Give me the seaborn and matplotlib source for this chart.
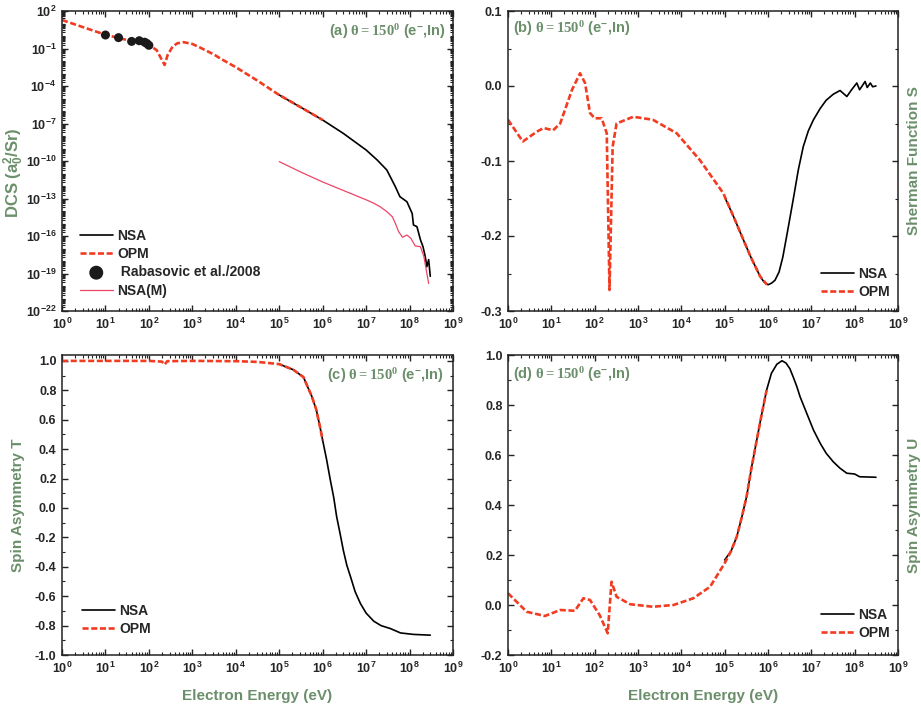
import numpy as np
import pandas as pd
import matplotlib
matplotlib.use("Agg")
import matplotlib.pyplot as plt
import matplotlib.ticker as mticker
import seaborn as sns

# ---------------- data (electron energy in eV) ----------------
# (a) differential cross section, a0^2/Sr
dcs_opm_e = [1, 3.2, 10, 32, 100, 150, 200, 230, 270, 350, 450, 630, 1000, 1500,
             3200, 4400, 1e4, 3.2e4, 1e5, 3.2e5, 1e6]
dcs_opm_v = [19, 4.8, 1.26, 0.47, 0.19, 0.076, 0.012, 0.0048, 0.030, 0.14, 0.26,
             0.32, 0.23, 0.12, 0.032, 0.016, 3.2e-3, 2.6e-4, 1.9e-5, 1.9e-6, 1.9e-7]
dcs_nsa_e = [1e5, 3.2e5, 1e6, 3e6, 1e7, 1.8e7, 3e7, 4.7e7, 6e7, 8.7e7, 1.15e8,
             1.23e8, 1.48e8, 1.78e8, 2.04e8, 2.3e8, 2.5e8, 2.75e8, 3e8]
dcs_nsa_v = [1.9e-5, 1.9e-6, 1.9e-7, 1.6e-8, 7.6e-10, 1.2e-10, 1.9e-11, 8.9e-13,
             1.4e-13, 5.5e-14, 6.3e-15, 7.6e-16, 5.6e-16, 5.0e-17, 1.4e-17,
             2.2e-18, 3.5e-19, 1.3e-18, 6e-20]
dcs_nsam_e = [1e5, 3.2e5, 1e6, 3.2e6, 1e7, 1.5e7, 2.1e7, 3e7, 4e7, 4.7e7, 5.6e7,
              6.9e7, 8.7e7, 1.07e8, 1.35e8, 1.78e8, 2.14e8, 2.75e8]
dcs_nsam_v = [8.9e-11, 1.26e-11, 2.1e-12, 4.0e-13, 7.9e-14, 4.2e-14, 2.2e-14,
              8.9e-15, 3.5e-15, 1.05e-15, 2.2e-16, 7.9e-17, 1.2e-16, 6.5e-17,
              1.6e-17, 1.4e-17, 2.2e-18, 1.6e-20]
rab_e = [10, 20, 40, 60, 80, 90, 100]
rab_v = [1.2, 0.74, 0.37, 0.42, 0.32, 0.25, 0.18]

# (b) Sherman function S
s_opm_e = [1, 2.2, 4.6, 6.6, 11, 16, 30, 46, 60, 78, 100, 145, 190, 220, 260, 320,
           780, 2200, 7800, 2.7e4, 9.3e4, 1.6e5, 2.7e5, 4e5, 6.6e5, 9.5e5]
s_opm_v = [-0.045, -0.074, -0.061, -0.056, -0.059, -0.050, -0.005, 0.017, 0.004,
           -0.036, -0.043, -0.043, -0.063, -0.272, -0.081, -0.050, -0.041, -0.045,
           -0.063, -0.099, -0.143, -0.174, -0.205, -0.228, -0.254, -0.265]
s_nsa_e = [1e5, 1.6e5, 2.7e5, 4e5, 6.6e5, 8e5, 1.0e6, 1.2e6, 1.45e6, 1.8e6, 2.2e6,
           2.8e6, 3.8e6, 5e6, 6.5e6, 8.5e6, 1.12e7, 1.6e7, 2.2e7, 3.2e7, 4.6e7,
           6.6e7, 8.5e7, 1.12e8, 1.3e8, 1.74e8, 1.95e8, 2.3e8, 2.6e8, 3.1e8]
s_nsa_v = [-0.148, -0.174, -0.205, -0.228, -0.254, -0.261, -0.265, -0.263, -0.259,
           -0.248, -0.228, -0.195, -0.152, -0.112, -0.081, -0.060, -0.045, -0.030,
           -0.019, -0.011, -0.006, -0.014, -0.005, 0.004, -0.005, 0.006, -0.002,
           0.004, -0.001, 0.0]

# (c) spin asymmetry T
t_opm_e = [1, 10, 100, 200, 230, 265, 1000, 1e4, 3.2e4, 1e5, 2.1e5, 3.6e5, 5.6e5,
           7.1e5, 8.7e5, 1e6]
t_opm_v = [1.0, 1.0, 1.0, 0.995, 0.975, 0.998, 1.0, 0.998, 0.993, 0.978, 0.94,
           0.89, 0.76, 0.67, 0.55, 0.46]
t_nsa_e = [1e5, 2.1e5, 3.6e5, 5.6e5, 7.1e5, 8.7e5, 1e6, 1.23e6, 1.5e6, 1.8e6, 2.1e6,
           2.5e6, 3e6, 3.6e6, 4.4e6, 5.6e6, 7.4e6, 1e7, 1.5e7, 2.2e7, 3.6e7, 6.2e7,
           1.23e8, 3e8]
t_nsa_v = [0.978, 0.94, 0.89, 0.76, 0.67, 0.55, 0.46, 0.33, 0.19, 0.07, -0.06,
           -0.17, -0.29, -0.39, -0.47, -0.57, -0.65, -0.715, -0.77, -0.80, -0.82,
           -0.85, -0.86, -0.865]

# (d) spin asymmetry U
u_opm_e = [1, 2.7, 7.1, 16, 35, 55, 78, 130, 200, 245, 320, 660, 2200, 6600, 1.9e4,
           4.6e4, 1e5, 1.4e5, 1.9e5, 2.5e5, 3.2e5, 4.2e5, 5.5e5, 7.1e5, 9.3e5]
u_opm_v = [0.047, -0.027, -0.044, -0.020, -0.023, 0.027, 0.020, -0.040, -0.113,
           0.093, 0.033, 0.003, -0.007, 0.0, 0.027, 0.073, 0.167, 0.215, 0.273,
           0.353, 0.433, 0.553, 0.66, 0.76, 0.86]
u_nsa_e = [1e5, 1.4e5, 1.9e5, 2.5e5, 3.2e5, 4.2e5, 5.5e5, 7.1e5, 9.3e5, 1.2e6,
           1.6e6, 2.1e6, 2.6e6, 3.2e6, 3.8e6, 4.6e6, 5.5e6, 7.9e6, 1.12e7, 1.6e7,
           2.2e7, 3.2e7, 4.6e7, 6.6e7, 1.0e8, 1.3e8, 2e8, 3.1e8]
u_nsa_v = [0.18, 0.215, 0.273, 0.353, 0.433, 0.553, 0.66, 0.76, 0.86, 0.927,
           0.963, 0.977, 0.968, 0.945, 0.913, 0.875, 0.833, 0.765, 0.70, 0.647,
           0.607, 0.573, 0.547, 0.527, 0.524, 0.513, 0.512, 0.511]

panel_tags = ["(a)", "(b)", "(c)", "(d)"]
x_decades = list(range(0, 10))

# ---------------- style ----------------
sns.set_style("ticks")
GREEN = "#6B8F6B"
RED = "#F23C22"
PINK = "#EE4466"
plt.rcParams.update({
    "font.family": ["Liberation Sans", "DejaVu Sans"],
    "font.weight": "bold",
    "mathtext.fontset": "custom",
    "mathtext.rm": "Liberation Serif",
    "mathtext.it": "Liberation Serif:italic",
    "mathtext.bf": "Liberation Sans:bold",
    "mathtext.sf": "Liberation Sans",
    "xtick.direction": "in",
    "ytick.direction": "in",
    "axes.linewidth": 1.1,
    "axes.edgecolor": "#222222",
})

fig = plt.figure(figsize=(9.21, 7.09), dpi=100)
W, H = 921.0, 709.0


def rect(l, t, r, b):
    return [l / W, 1 - b / H, (r - l) / W, (b - t) / H]


ax_a = fig.add_axes(rect(62, 11, 453, 311))
ax_b = fig.add_axes(rect(508, 11, 898, 311))
ax_c = fig.add_axes(rect(62, 355, 453, 655))
ax_d = fig.add_axes(rect(508, 355, 898, 655))

dash = (2.3, 1.0)
NSA_KW = dict(color="black", lw=1.2, sort=False)
OPM_KW = dict(color=RED, lw=1.9, sort=False, dashes=dash)


def series(e, v):
    return pd.DataFrame({"E": e, "V": v})


# (a)
sns.lineplot(data=series(dcs_nsa_e, dcs_nsa_v), x="E", y="V", ax=ax_a, label="NSA", **NSA_KW)
sns.lineplot(data=series(dcs_opm_e, dcs_opm_v), x="E", y="V", ax=ax_a, label="OPM", **OPM_KW)
sns.scatterplot(data=series(rab_e, rab_v), x="E", y="V", ax=ax_a, color="#1a1a1a",
                s=42, edgecolor="none", label=" Rabasovic et al./2008", zorder=5)
sns.lineplot(data=series(dcs_nsam_e, dcs_nsam_v), x="E", y="V", ax=ax_a, label="NSA(M)",
             color=PINK, lw=0.9, sort=False)
ax_a.set_yscale("log")
ax_a.set_ylim(1e-22, 1e2)
ax_a.yaxis.set_major_locator(mticker.FixedLocator([10.0 ** k for k in range(2, -23, -3)]))
ax_a.yaxis.set_minor_locator(mticker.LogLocator(base=10, subs=np.arange(1, 10), numticks=400))
ax_a.yaxis.set_major_formatter(mticker.FuncFormatter(
    lambda v, p: r"$\mathbf{10^{%d}}$" % int(round(np.log10(v)))))
ax_a.yaxis.set_minor_formatter(mticker.NullFormatter())

# (b)
sns.lineplot(data=series(s_nsa_e, s_nsa_v), x="E", y="V", ax=ax_b, label="NSA", **NSA_KW)
sns.lineplot(data=series(s_opm_e, s_opm_v), x="E", y="V", ax=ax_b, label="OPM", **OPM_KW)
ax_b.set_ylim(-0.3, 0.1)
ax_b.yaxis.set_major_locator(mticker.MultipleLocator(0.1))
ax_b.yaxis.set_minor_locator(mticker.MultipleLocator(0.05))

# (c)
sns.lineplot(data=series(t_nsa_e, t_nsa_v), x="E", y="V", ax=ax_c, label="NSA", **NSA_KW)
sns.lineplot(data=series(t_opm_e, t_opm_v), x="E", y="V", ax=ax_c, label="OPM", **OPM_KW)
ax_c.set_ylim(-1.0, 1.04)
ax_c.yaxis.set_major_locator(mticker.MultipleLocator(0.2))
ax_c.yaxis.set_minor_locator(mticker.MultipleLocator(0.1))

# (d)
sns.lineplot(data=series(u_nsa_e, u_nsa_v), x="E", y="V", ax=ax_d, label="NSA", **NSA_KW)
sns.lineplot(data=series(u_opm_e, u_opm_v), x="E", y="V", ax=ax_d, label="OPM", **OPM_KW)
ax_d.set_ylim(-0.2, 1.0)
ax_d.yaxis.set_major_locator(mticker.MultipleLocator(0.2))
ax_d.yaxis.set_minor_locator(mticker.MultipleLocator(0.1))

for ax in (ax_b, ax_c, ax_d):
    ax.yaxis.set_major_formatter(mticker.FuncFormatter(lambda v, p: "%.1f" % v if abs(v) > 1e-9 else "0.0"))

for ax in (ax_a, ax_b, ax_c, ax_d):
    ax.set_xscale("log")
    ax.set_xlim(1, 1e9)
    ax.xaxis.set_major_locator(mticker.FixedLocator([10.0 ** k for k in x_decades]))
    ax.xaxis.set_minor_locator(mticker.LogLocator(base=10, subs=np.arange(2, 10), numticks=200))
    ax.xaxis.set_major_formatter(mticker.FuncFormatter(
        lambda v, p: r"$\mathbf{10^{%d}}$" % int(round(np.log10(v)))))
    ax.xaxis.set_minor_formatter(mticker.NullFormatter())
    ax.tick_params(which="both", top=True, right=True, direction="in", color="#222222")
    ax.tick_params(which="major", length=4.5, width=1.0, labelsize=9, pad=4)
    ax.tick_params(which="minor", length=2.4, width=0.8)
    ax.set_xlabel("")
    ax.set_ylabel("")
    for lab in ax.get_xticklabels() + ax.get_yticklabels():
        lab.set_fontweight("bold")

# axis titles
lab_kw = dict(color=GREEN, fontsize=11, fontweight="bold")
ax_a.set_ylabel(r"DCS (a$_{\mathbf{0}}^{\mathbf{2}}$/Sr)", fontsize=12,
                color=GREEN, fontweight="bold")
ax_a.yaxis.set_label_coords(-0.092, 0.46)
ax_c.set_ylabel("Spin Asymmetry T", **lab_kw)
ax_c.yaxis.set_label_coords(-0.094, 0.5)
for ax, txt in ((ax_b, "Sherman Function S"), (ax_d, "Spin Asymmetry U")):
    ax.yaxis.set_label_position("right")
    ax.set_ylabel(txt, rotation=90, **lab_kw)
    ax.yaxis.set_label_coords(1.024, 0.5)
for ax in (ax_c, ax_d):
    ax.set_xlabel("Electron Energy (eV)", **lab_kw)
    ax.xaxis.set_label_coords(0.5, -0.112)

# panel tags
ttl_kw = dict(color=GREEN, fontsize=10.5, fontweight="bold", va="center")
def tag(s):
    return s + r" $\mathrm{\theta = 150^{0}}$ (e$^{\mathbf{-}}$,In)"
ax_a.text(0.981, 0.933, tag(panel_tags[0]), transform=ax_a.transAxes, ha="right", **ttl_kw)
ax_b.text(0.014, 0.94, tag(panel_tags[1]), transform=ax_b.transAxes, ha="left", **ttl_kw)
ax_c.text(0.976, 0.933, tag(panel_tags[2]), transform=ax_c.transAxes, ha="right", **ttl_kw)
ax_d.text(0.014, 0.935, tag(panel_tags[3]), transform=ax_d.transAxes, ha="left", **ttl_kw)

# legends
leg_kw = dict(frameon=False, prop={"weight": "bold", "size": 10}, handlelength=2.4,
              handletextpad=0.3, labelspacing=0.27, borderpad=0, borderaxespad=0)
ax_a.legend(loc="lower left", bbox_to_anchor=(0.045, 0.045), markerscale=1.55,
            **dict(leg_kw, labelspacing=0.3))
ax_b.legend(loc="lower right", bbox_to_anchor=(0.98, 0.04), **leg_kw)
ax_c.legend(loc="lower left", bbox_to_anchor=(0.05, 0.063), **leg_kw)
ax_d.legend(loc="lower right", bbox_to_anchor=(0.98, 0.05), **leg_kw)

fig.savefig("out.png", dpi=100)
